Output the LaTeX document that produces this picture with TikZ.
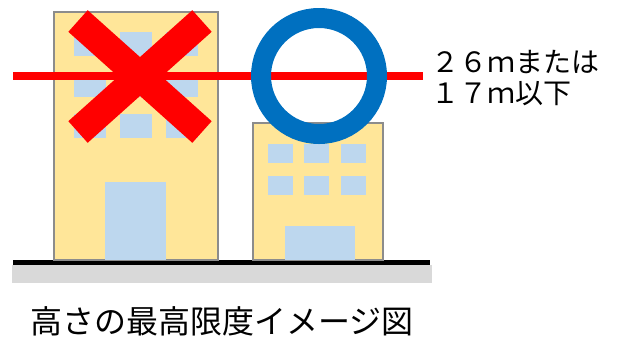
\documentclass[tikz,border=0pt]{standalone}
\usepackage{fontspec}
\setmainfont{Noto Sans CJK JP}

\definecolor{wallyellow}{HTML}{FFE699}
\definecolor{paneblue}{HTML}{BDD7EE}
\definecolor{edgegray}{HTML}{8C8C8C}
\definecolor{groundgray}{HTML}{D9D9D9}
\definecolor{okblue}{HTML}{0070C0}

\begin{document}
\begin{tikzpicture}[x=1bp, y=-1bp,
    wall/.style={fill=wallyellow, draw=edgegray, line width=1.5bp},
    pane/.style={fill=paneblue},
    limit/.style={draw=red, line width=8bp},
    cross/.style={draw=red, line width=29bp},
    ring/.style={draw=okblue, line width=20bp},
    label/.style={inner sep=0pt, anchor=base west, font=\fontsize{28bp}{32bp}\selectfont}
]
\useasboundingbox (0,0) rectangle (621,349);

% Ground
\fill[groundgray] (12,265) rectangle (432,283);
\fill[black] (13,260) rectangle (430,265);

% Tall building
\draw[wall] (54,12) rectangle (218,260);
\fill[pane] (74,32) rectangle (106,56);
\fill[pane] (120,32) rectangle (152,56);
\fill[pane] (166,32) rectangle (198,56);
\fill[pane] (74,73) rectangle (106,97);
\fill[pane] (120,73) rectangle (152,97);
\fill[pane] (166,73) rectangle (198,97);
\fill[pane] (74,114) rectangle (106,138);
\fill[pane] (120,114) rectangle (152,138);
\fill[pane] (166,114) rectangle (198,138);
\fill[pane] (105,182) rectangle (166,260);

% Low building
\draw[wall] (253,123) rectangle (383,260);
\fill[pane] (268,144) rectangle (293,163);
\fill[pane] (304,144) rectangle (329,163);
\fill[pane] (341,144) rectangle (366,163);
\fill[pane] (268,176) rectangle (293,195);
\fill[pane] (304,176) rectangle (329,195);
\fill[pane] (341,176) rectangle (366,195);
\fill[pane] (285,226) rectangle (355,260);

% Height limit line
\coordinate (lineL) at (13,76);
\coordinate (lineR) at (423,76);
\draw[limit] (lineL) -- (lineR);

% Marks
\coordinate (ngA) at (78,21);
\coordinate (ngB) at (202,132);
\coordinate (ngC) at (202,21);
\coordinate (ngD) at (78,132);
\draw[cross] (ngA) -- (ngB);
\draw[cross] (ngC) -- (ngD);
\draw[ring] (319,76) circle (58);

% Labels
\node[label] (limit1) at (431,72) {２６ｍまたは};
\node[label] (limit2) at (431,103) {１７ｍ以下};
\node[label, font=\fontsize{32bp}{40bp}\selectfont] (caption) at (30,333) {高さの最高限度イメージ図};

\end{tikzpicture}
\end{document}
